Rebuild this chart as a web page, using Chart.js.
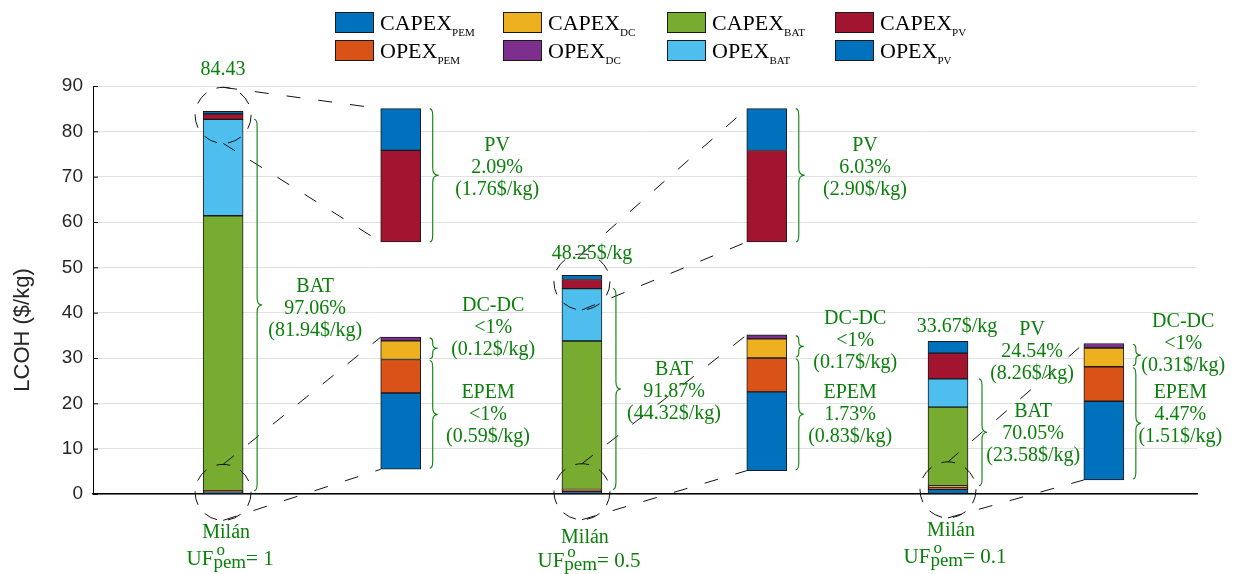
<!DOCTYPE html>
<html>
<head>
<meta charset="utf-8">
<script src="https://cdn.jsdelivr.net/npm/chart.js@4.4.0/dist/chart.umd.min.js"></script>
<style>
  html, body { margin: 0; padding: 0; background: #fff; }
</style>
</head>
<body>
<canvas id="lcohChart" width="1234" height="574"></canvas>
<script>
// LCOH breakdown for the three Milán cases, components bottom -> top ($/kg)
const ufValues = ['1', '0.5', '0.1'];
const capexPem = [0.41, 0.58, 1.05];
const opexPem  = [0.18, 0.25, 0.46];
const capexDc  = [0.10, 0.14, 0.25];
const opexDc   = [0.02, 0.03, 0.06];
const capexBat = [60.66, 32.75, 17.35];
const opexBat  = [21.28, 11.57, 6.23];
const capexPv  = [1.21, 1.99, 5.66];
const opexPv   = [0.55, 0.91, 2.60];

const yTicks = [0, 10, 20, 30, 40, 50, 60, 70, 80, 90];

const totalLabels = ['84.43', '48.25$/kg', '33.67$/kg'];
const batLabels = [['BAT', '97.06%', '(81.94$/kg)'], ['BAT', '91.87%', '(44.32$/kg)'], ['BAT', '70.05%', '(23.58$/kg)']];
const pvLabels  = [['PV', '2.09%', '(1.76$/kg)'], ['PV', '6.03%', '(2.90$/kg)'], ['PV', '24.54%', '(8.26$/kg)']];
const dcLabels  = [['DC-DC', '<1%', '(0.12$/kg)'], ['DC-DC', '<1%', '(0.17$/kg)'], ['DC-DC', '<1%', '(0.31$/kg)']];
const pemLabels = [['EPEM', '<1%', '(0.59$/kg)'], ['EPEM', '1.73%', '(0.83$/kg)'], ['EPEM', '4.47%', '(1.51$/kg)']];

const series = [
    { name: 'CAPEX', sub: 'PEM', values: capexPem, color: '#0072BD' },
    { name: 'OPEX',  sub: 'PEM', values: opexPem,  color: '#D95319' },
    { name: 'CAPEX', sub: 'DC',  values: capexDc,  color: '#EDB120' },
    { name: 'OPEX',  sub: 'DC',  values: opexDc,   color: '#7E2F8E' },
    { name: 'CAPEX', sub: 'BAT', values: capexBat, color: '#77AC30' },
    { name: 'OPEX',  sub: 'BAT', values: opexBat,  color: '#4DBEEE' },
    { name: 'CAPEX', sub: 'PV',  values: capexPv,  color: '#A2142F' },
    { name: 'OPEX',  sub: 'PV',  values: opexPv,   color: '#0072BD' }
];

// layout: where bars and zoom insets sit on the hidden x axis
const xMain = [1, 1.99, 3];
const xInset = [1.49, 2.5, 3.43];
// zoom insets: which components, and which stretch of the main y axis they fill
const insets = [
    { bar: 0, from: 6, to: 8, span: [55.6, 85] },
    { bar: 0, from: 0, to: 4, span: [5.45, 34.6] },
    { bar: 1, from: 6, to: 8, span: [55.6, 85] },
    { bar: 1, from: 0, to: 4, span: [5.15, 35.1] },
    { bar: 2, from: 0, to: 4, span: [3.1, 33.2] }
];

const GREEN = '#0a7f0a';
const SERIF = '"Liberation Serif", "Times New Roman", serif';
const SANS = '"Liberation Sans", Arial, sans-serif';

function cum(bar, upto) {
    let s = 0;
    for (let k = 0; k < upto; k++) s += series[k].values[bar];
    return s;
}

const datasets = [];
const scales = {};

series.forEach((s, k) => {
    datasets.push({
        label: s.name + '_' + s.sub,
        backgroundColor: s.color,
        yAxisID: 'y',
        data: xMain.map((x, i) => ({ x: x, y: [cum(i, k), cum(i, k) + s.values[i]] }))
    });
});

insets.forEach((ins, n) => {
    const a = cum(ins.bar, ins.from);
    const b = cum(ins.bar, ins.to);
    const f = (ins.span[1] - ins.span[0]) / (b - a);
    const id = 'zoom' + n;
    ins.axis = id;
    scales[id] = { type: 'linear', display: false, min: a - ins.span[0] / f, max: a + (90 - ins.span[0]) / f };
    for (let k = ins.from; k < ins.to; k++) {
        datasets.push({
            label: id + '_' + k,
            backgroundColor: series[k].color,
            yAxisID: id,
            data: [{ x: xInset[ins.bar], y: [cum(ins.bar, k), cum(ins.bar, k + 1)] }]
        });
    }
});

function brace(ctx, x, yTop, yBot, w) {
    const ym = (yTop + yBot) / 2;
    const c = Math.min(7, (yBot - yTop) / 5);
    ctx.beginPath();
    ctx.moveTo(x - 3, yTop);
    ctx.quadraticCurveTo(x, yTop, x, yTop + c);
    ctx.lineTo(x, ym - c);
    ctx.quadraticCurveTo(x, ym, x + w, ym);
    ctx.quadraticCurveTo(x, ym, x, ym + c);
    ctx.lineTo(x, yBot - c);
    ctx.quadraticCurveTo(x, yBot, x - 3, yBot);
    ctx.stroke();
}

function textBlock(ctx, lines, cx, cy) {
    ctx.font = '20px ' + SERIF;
    ctx.fillStyle = GREEN;
    ctx.textAlign = 'center';
    ctx.textBaseline = 'middle';
    lines.forEach((t, i) => ctx.fillText(t, cx, cy + (i - (lines.length - 1) / 2) * 22));
}

const annotations = {
    id: 'annotations',
    afterDraw(chart) {
        const ctx = chart.ctx;
        const sx = chart.scales.x, sy = chart.scales.y;
        const X = v => sx.getPixelForValue(v);
        const Y = v => sy.getPixelForValue(v);
        const area = chart.chartArea;
        ctx.save();

        // inward tick marks on the y axis
        ctx.strokeStyle = '#000';
        ctx.lineWidth = 1;
        yTicks.forEach(t => {
            ctx.beginPath();
            ctx.moveTo(area.left, Y(t) + 0.5);
            ctx.lineTo(area.left + 5, Y(t) + 0.5);
            ctx.stroke();
        });

        // y axis title, sits a bit below the plot centre like the original
        ctx.save();
        ctx.translate(23, 330);
        ctx.rotate(-Math.PI / 2);
        ctx.fillStyle = '#262626';
        ctx.font = '22px ' + SANS;
        ctx.textAlign = 'center';
        ctx.textBaseline = 'middle';
        ctx.fillText('LCOH ($/kg)', 0, 0);
        ctx.restore();

        // dashed ellipses around the zoomed part + connectors to the inset
        const r = 28;
        insets.forEach(ins => {
            const zs = chart.scales[ins.axis];
            const a = cum(ins.bar, ins.from), b = cum(ins.bar, ins.to);
            const cx = X(xMain[ins.bar]);
            const cy = Y((a + b) / 2);
            const ix = X(xInset[ins.bar]) - 20;
            ctx.strokeStyle = '#111';
            ctx.lineWidth = 1;
            ctx.setLineDash([14, 11]);
            ctx.beginPath();
            ctx.ellipse(cx, cy, r, r, 0, 0, Math.PI * 2);
            ctx.stroke();
            ctx.setLineDash([14, 18]);
            ctx.beginPath();
            ctx.moveTo(cx, cy - r);
            ctx.lineTo(ix, zs.getPixelForValue(b));
            ctx.moveTo(cx, cy + r);
            ctx.lineTo(ix, zs.getPixelForValue(a));
            ctx.stroke();
        });
        ctx.setLineDash([]);

        // braces
        ctx.strokeStyle = GREEN;
        ctx.lineWidth = 1.1;
        xMain.forEach((x, i) => {
            brace(ctx, X(x) + 34, Y(cum(i, 6)), Y(cum(i, 4)), 5);
        });
        insets.forEach(ins => {
            const zs = chart.scales[ins.axis];
            const bx = X(xInset[ins.bar]) + 32;
            if (ins.from === 6) {
                brace(ctx, bx, Y(ins.span[1]), Y(ins.span[0]), 6);
            } else {
                brace(ctx, bx, zs.getPixelForValue(cum(ins.bar, 4)) + 1, zs.getPixelForValue(cum(ins.bar, 2)) - 1, 5);
                brace(ctx, bx, zs.getPixelForValue(cum(ins.bar, 2)) + 1, zs.getPixelForValue(0) - 1, 5);
            }
        });

        // green labels
        const totalPos = [[1.0, 93.5], [2.018, 53.0], [3.025, 36.9]];
        const batPos = [[1.254, 40.9], [2.244, 22.5], [3.235, 13.2]];
        const pvPos = [[1.756, 71.9], [2.771, 71.9], [3.232, 31.4]];
        const dcPos = [[1.745, 36.6], [2.744, 33.8], [3.649, 33.1]];
        const pemPos = [[1.731, 17.4], [2.730, 17.4], [3.641, 17.4]];
        xMain.forEach((x, i) => {
            textBlock(ctx, [totalLabels[i]], X(totalPos[i][0]), Y(totalPos[i][1]));
            textBlock(ctx, batLabels[i], X(batPos[i][0]), Y(batPos[i][1]));
            textBlock(ctx, pvLabels[i], X(pvPos[i][0]), Y(pvPos[i][1]));
            textBlock(ctx, dcLabels[i], X(dcPos[i][0]), Y(dcPos[i][1]));
            textBlock(ctx, pemLabels[i], X(pemPos[i][0]), Y(pemPos[i][1]));
        });

        // case labels under the bars
        const milanBase = [538, 543, 536];
        const ufBase = [565, 567, 563];
        xMain.forEach((x, i) => {
            const cx = X(x);
            ctx.fillStyle = GREEN;
            ctx.textBaseline = 'alphabetic';
            ctx.textAlign = 'center';
            ctx.font = '20px ' + SERIF;
            ctx.fillText('Milán', cx + 3, milanBase[i]);
            const tail = '= ' + ufValues[i];
            ctx.font = '21px ' + SERIF;
            const wUF = ctx.measureText('UF').width;
            const wTail = ctx.measureText(tail).width;
            ctx.font = '19px ' + SERIF;
            const wSub = ctx.measureText('pem').width;
            let lx = cx + 7 - (wUF + wSub + wTail) / 2;
            ctx.textAlign = 'left';
            ctx.font = '21px ' + SERIF;
            ctx.fillText('UF', lx, ufBase[i]);
            ctx.font = '17px ' + SERIF;
            ctx.fillText('o', lx + wUF + 3, ufBase[i] - 10);
            ctx.font = '19px ' + SERIF;
            ctx.fillText('pem', lx + wUF, ufBase[i] + 3);
            ctx.font = '21px ' + SERIF;
            ctx.fillText(tail, lx + wUF + wSub, ufBase[i]);
        });

        // legend, 2 rows x 4 columns, with subscripts
        const colX = [335, 503, 667, 835];
        const rowY = [12, 40];
        series.forEach((s, k) => {
            const x0 = colX[Math.floor(k / 2)];
            const y0 = rowY[k % 2];
            ctx.fillStyle = s.color;
            ctx.fillRect(x0, y0, 39, 21);
            ctx.strokeStyle = '#1a1a1a';
            ctx.lineWidth = 1;
            ctx.strokeRect(x0 + 0.5, y0 + 0.5, 38, 20);
            ctx.fillStyle = '#000';
            ctx.textAlign = 'left';
            ctx.textBaseline = 'alphabetic';
            ctx.font = '22px ' + SERIF;
            ctx.fillText(s.name, x0 + 45, y0 + 18);
            const w = ctx.measureText(s.name).width;
            ctx.font = '11px ' + SERIF;
            ctx.fillText(s.sub, x0 + 45 + w, y0 + 24);
        });

        ctx.restore();
    }
};

const chart = new Chart(document.getElementById('lcohChart'), {
    type: 'bar',
    data: { datasets: datasets },
    plugins: [annotations],
    options: {
        responsive: false,
        animation: false,
        devicePixelRatio: 1,
        layout: { padding: { left: 0, right: 37, top: 86, bottom: 80 } },
        plugins: { legend: { display: false }, tooltip: { enabled: false } },
        datasets: {
            bar: { barThickness: 40, grouped: false, borderWidth: 1, borderColor: '#1a1a1a', borderSkipped: false }
        },
        scales: Object.assign({
            x: {
                type: 'linear', min: 0.641, max: 3.687, offset: false,
                ticks: { display: false },
                grid: { display: false, drawTicks: false },
                border: { color: '#000', width: 1.5 },
                afterFit: s => { s.height = 0; }
            },
            y: {
                min: 0, max: 90,
                afterBuildTicks: s => { s.ticks = yTicks.map(v => ({ value: v })); },
                ticks: { padding: 10, color: '#262626', font: { family: SANS, size: 19 } },
                grid: { color: '#e2e2e2', drawTicks: false },
                border: { color: '#000', width: 1 },
                title: { display: false },
                afterFit: s => { s.width = 93; }
            }
        }, scales)
    }
});
</script>
</body>
</html>
